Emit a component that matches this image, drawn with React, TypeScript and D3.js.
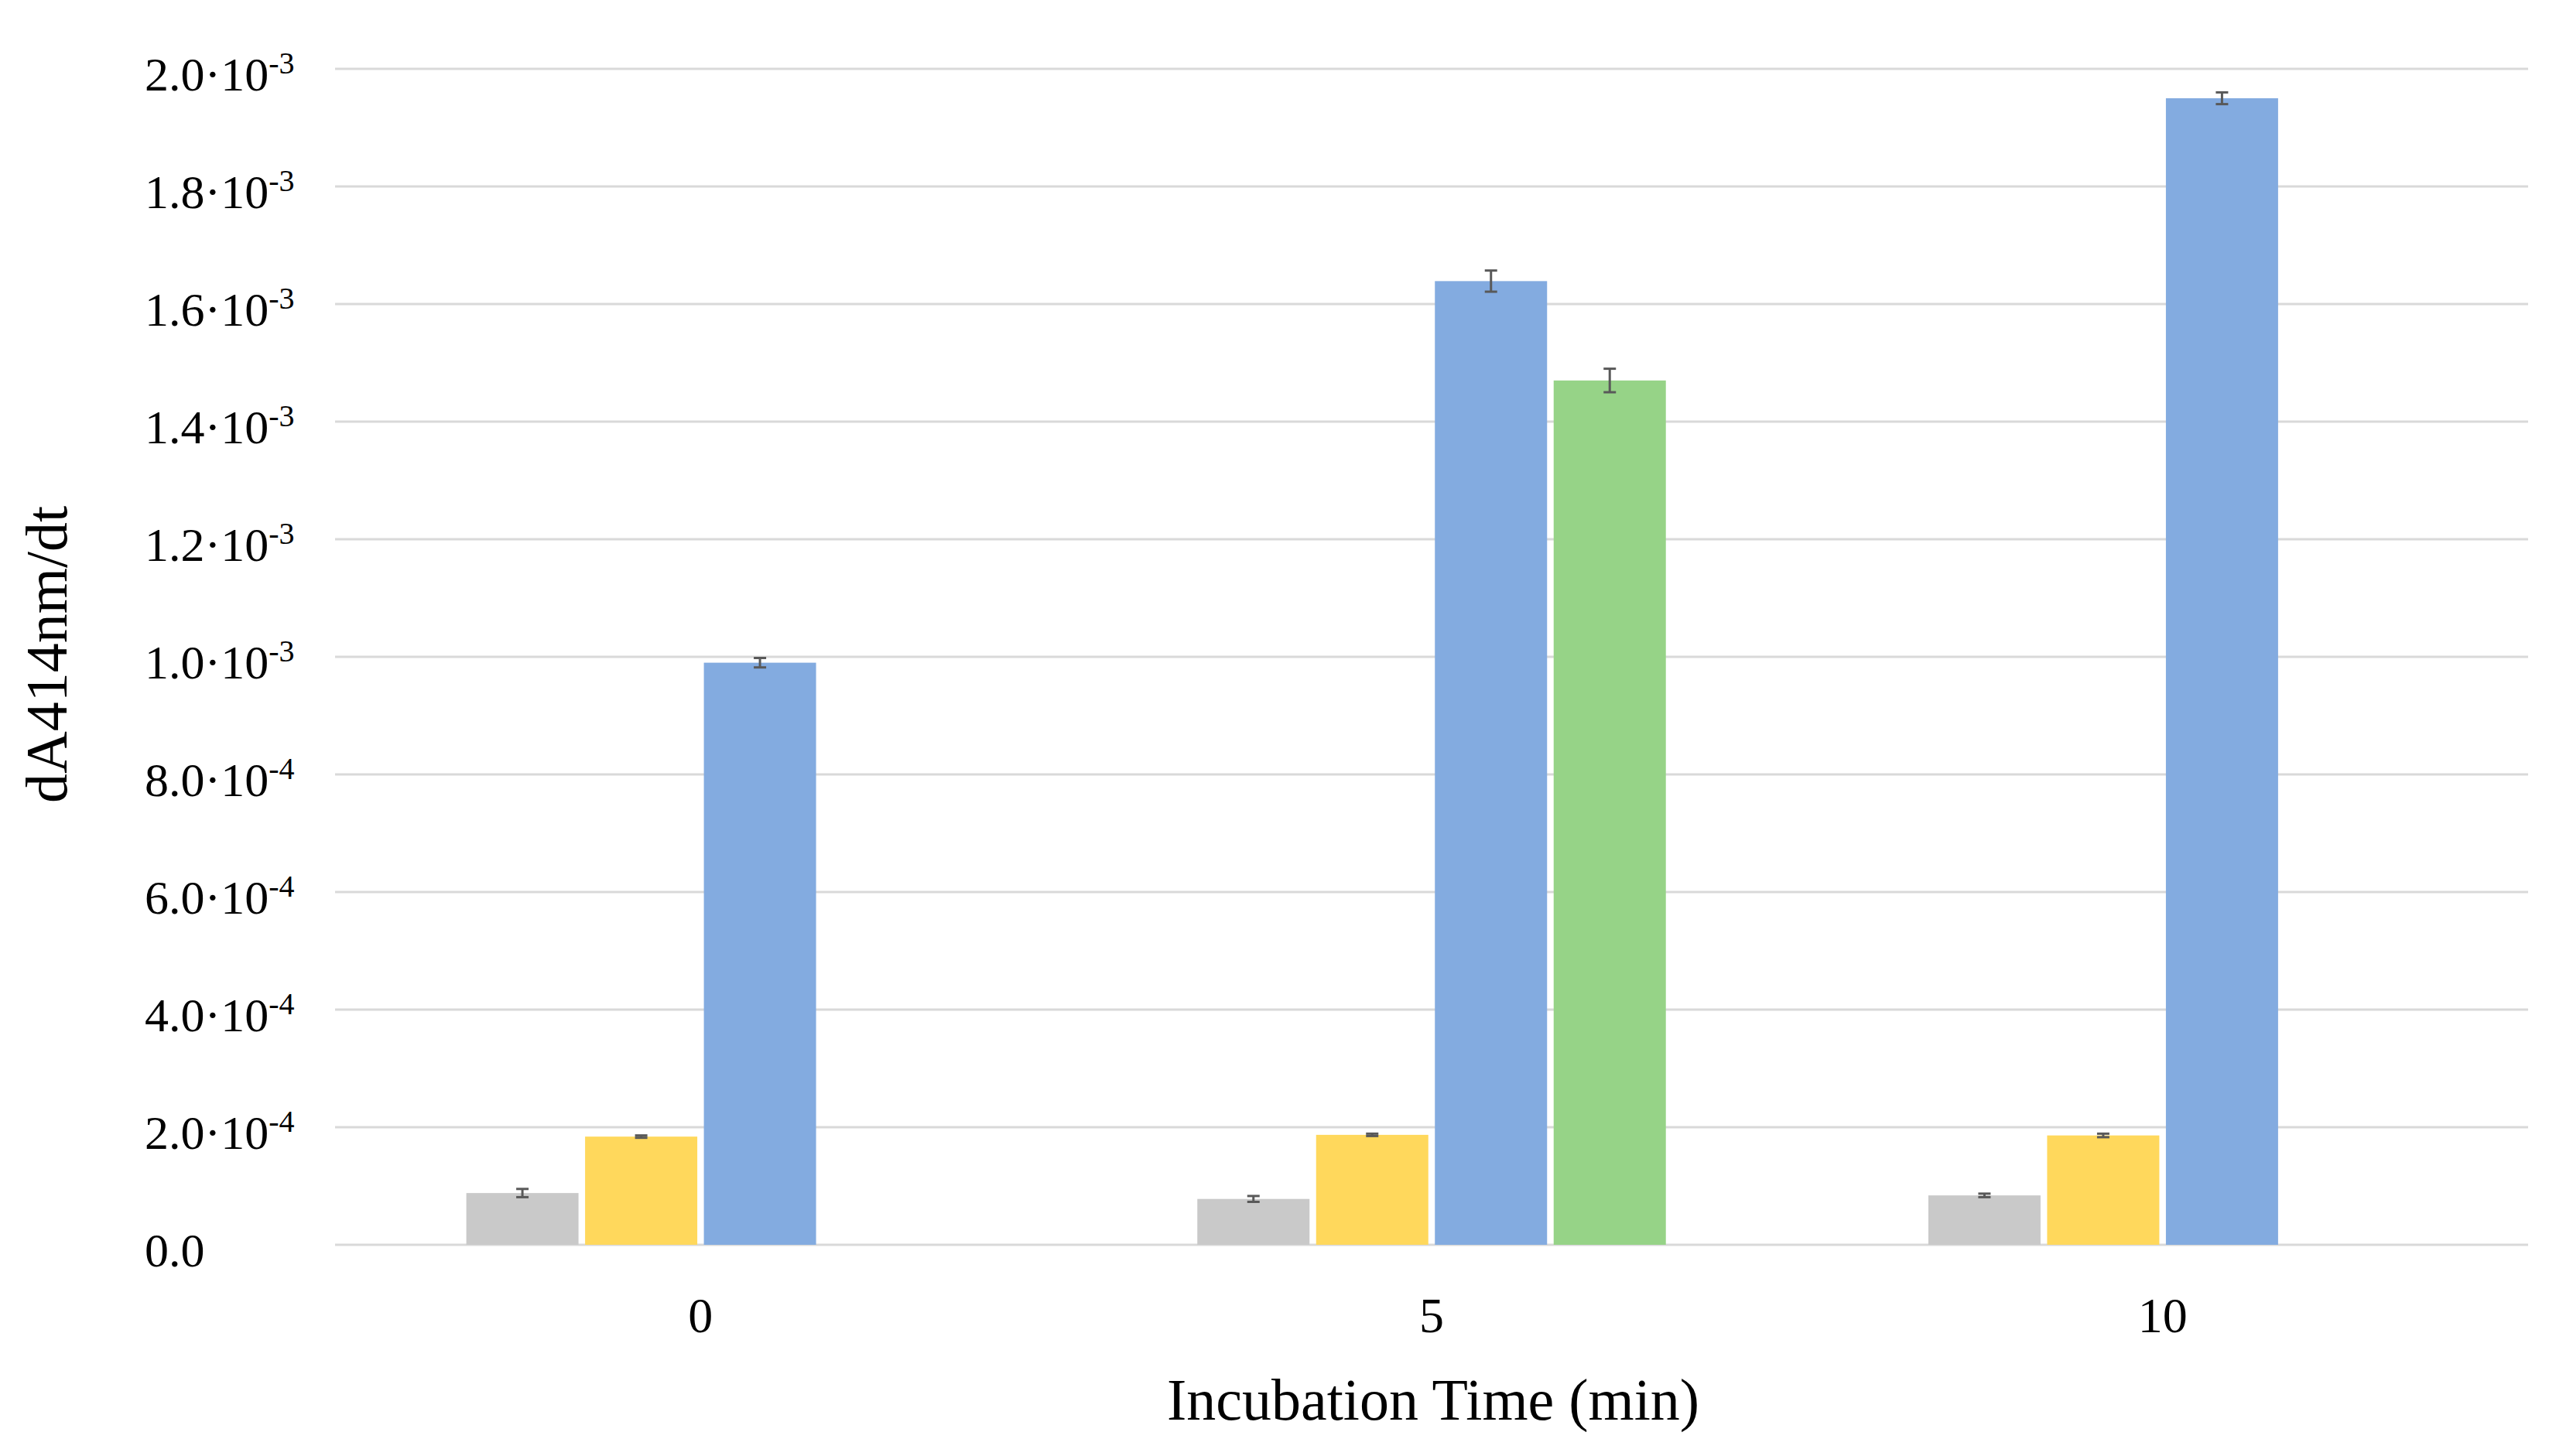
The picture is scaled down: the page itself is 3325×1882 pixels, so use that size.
import React from "react";
import * as d3 from "d3";

const categories = ["0", "5", "10"];
const seriesKeys = ["s1", "s2", "s3", "s4"];
const seriesColors = ["#C9C9C9", "#FFD85C", "#83ABE0", "#96D387"];

// values per series, per category (null = no bar)
const series1 = [8.8e-5, 7.8e-5, 8.4e-5];
const series2 = [1.84e-4, 1.87e-4, 1.86e-4];
const series3 = [9.9e-4, 1.639e-3, 1.95e-3];
const series4 = [null, 1.47e-3, null];

const errors1 = [7e-6, 5e-6, 3e-6];
const errors2 = [2e-6, 2e-6, 3e-6];
const errors3 = [8e-6, 1.8e-5, 1e-5];
const errors4 = [null, 2e-5, null];

const yTicks = [0, 2e-4, 4e-4, 6e-4, 8e-4, 1e-3, 1.2e-3, 1.4e-3, 1.6e-3, 1.8e-3, 2e-3];
const yTickMant = ["0.0", "2.0·10", "4.0·10", "6.0·10", "8.0·10", "1.0·10", "1.2·10", "1.4·10", "1.6·10", "1.8·10", "2.0·10"];
const yTickExp = ["", "-4", "-4", "-4", "-4", "-3", "-3", "-3", "-3", "-3", "-3"];

const xTitle = "Incubation Time (min)";
const yTitle = "dA414nm/dt";

const W = 3325;
const H = 1882;
const FONT = "'Liberation Serif', 'DejaVu Serif', serif";

export default function App() {
  const left = 433;
  const right = 3267;
  const y0 = 1609;
  const yTop = 89;

  const x = d3.scaleBand<string>().domain(categories).range([left, right]).padding(0);
  const xInner = d3
    .scaleBand<string>()
    .domain(seriesKeys)
    .range([0, x.bandwidth()])
    .paddingInner(0.0554)
    .paddingOuter(1.105);
  const y = d3.scaleLinear().domain([0, 2e-3]).range([y0, yTop]);

  const allValues = [series1, series2, series3, series4];
  const allErrors = [errors1, errors2, errors3, errors4];

  const bars: React.ReactNode[] = [];
  const errs: React.ReactNode[] = [];
  categories.forEach((c, ci) => {
    seriesKeys.forEach((s, si) => {
      const v = allValues[si][ci];
      if (v == null) return;
      const bx = (x(c) ?? 0) + (xInner(s) ?? 0);
      const bw = xInner.bandwidth();
      bars.push(
        <rect key={`b-${ci}-${si}`} x={bx} y={y(v)} width={bw} height={y(0) - y(v)} fill={seriesColors[si]} />
      );
      const e = allErrors[si][ci];
      if (e != null) {
        const cx = bx + bw / 2;
        const hi = y(v + e);
        const lo = y(v - e);
        errs.push(
          <g key={`e-${ci}-${si}`} stroke="#595959" strokeWidth={3}>
            <line x1={cx} x2={cx} y1={hi} y2={lo} />
            <line x1={cx - 8} x2={cx + 8} y1={hi} y2={hi} />
            <line x1={cx - 8} x2={cx + 8} y1={lo} y2={lo} />
          </g>
        );
      }
    });
  });

  return (
    <svg
      width={W}
      height={H}
      viewBox={`0 0 ${W} ${H}`}
      style={{ position: "absolute", left: 0, top: 0, background: "#fff" }}
      fontFamily={FONT}
    >
      <rect x={0} y={0} width={W} height={H} fill="#fff" />
      {yTicks.map((t, i) => (
        <line key={`g-${i}`} x1={left} x2={right} y1={y(t)} y2={y(t)} stroke="#D9D9D9" strokeWidth={3} />
      ))}
      {bars}
      {errs}
      {yTicks.map((t, i) => (
        <text key={`yt-${i}`} x={187} y={y(t) + 28} fontSize={62} fill="#000">
          {yTickMant[i]}
          {yTickExp[i] && (
            <tspan fontSize={40} dy={-22}>
              {yTickExp[i]}
            </tspan>
          )}
        </text>
      ))}
      {categories.map((c) => (
        <text key={`xt-${c}`} x={(x(c) ?? 0) + x.bandwidth() / 2} y={1722} fontSize={64} textAnchor="middle" fill="#000">
          {c}
        </text>
      ))}
      <text x={1852} y={1835} fontSize={76} textAnchor="middle" fill="#000">
        {xTitle}
      </text>
      <text transform={`translate(86, 846) rotate(-90)`} fontSize={76} textAnchor="middle" fill="#000">
        {yTitle}
      </text>
    </svg>
  );
}
